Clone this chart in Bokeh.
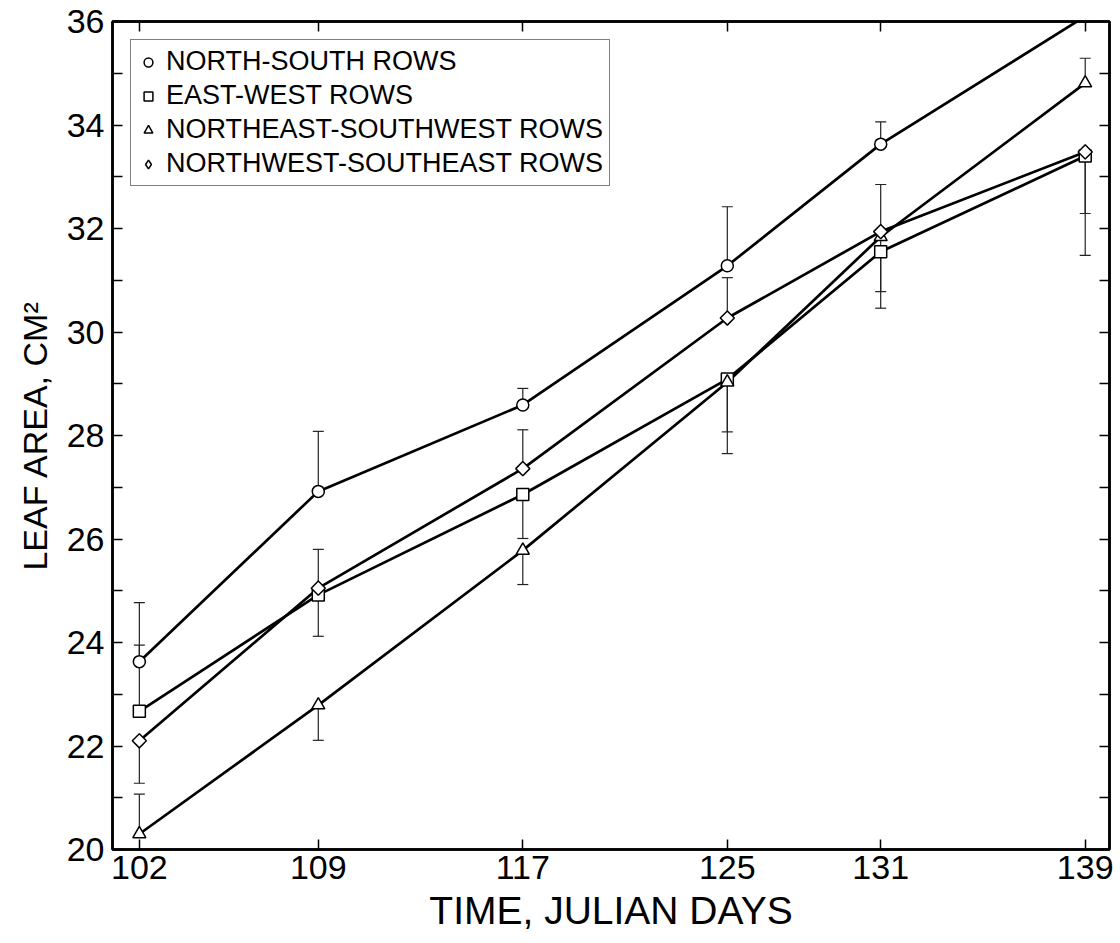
import math
from bokeh.plotting import figure
from bokeh.models import (Range1d, LinearAxis, FixedTicker, Whisker, TeeHead,
                          ColumnDataSource, Legend, LegendItem)
from bokeh.embed import file_html
from bokeh.resources import INLINE

# ---------------- data ----------------
days = [102, 109, 117, 125, 131, 139]
y_ticks = [20, 22, 24, 26, 28, 30, 32, 34, 36]
y_minor_ticks = [21, 23, 25, 27, 29, 31, 33, 35]

series_names = ["NORTH-SOUTH ROWS", "EAST-WEST ROWS",
                "NORTHEAST-SOUTHWEST ROWS", "NORTHWEST-SOUTHEAST ROWS"]
series_markers = ["circle", "square", "triangle", "diamond"]

north_south = [23.63, 26.92, 28.59, 31.28, 33.63, 36.10]
east_west = [22.67, 24.92, 26.86, 29.09, 31.55, 33.40]
northeast_southwest = [20.30, 22.79, 25.78, 29.03, 31.84, 34.81]
northwest_southeast = [22.10, 25.05, 27.36, 30.27, 31.94, 33.48]

# one-sided error bar ends (None = no bar drawn)
north_south_bar = [24.77, 28.08, 28.91, 32.42, 34.06, None]
east_west_bar = [23.95, 24.12, 26.01, 28.07, 30.78, 32.29]
northeast_southwest_bar = [21.07, 22.11, 25.12, 27.65, 30.46, 35.29]
northwest_southeast_bar = [21.28, 25.80, 28.11, 31.05, 32.85, 31.48]

series_values = [north_south, east_west, northeast_southwest, northwest_southeast]
series_bars = [north_south_bar, east_west_bar, northeast_southwest_bar, northwest_southeast_bar]

FONT = "Liberation Sans"

# ---------------- figure ----------------
p = figure(width=1120, height=943,
           x_range=Range1d(100.95, 139.95), y_range=Range1d(20, 36),
           output_backend="svg", toolbar_location=None,
           min_border_left=112, min_border_right=11,
           min_border_top=21, min_border_bottom=94,
           x_axis_label="TIME, JULIAN DAYS",
           y_axis_label="LEAF AREA, CM\u00b2")
p.background_fill_color = "white"
p.border_fill_color = "white"
p.outline_line_color = "black"
p.outline_line_width = 2.5
p.xgrid.visible = False
p.ygrid.visible = False

xa = p.xaxis[0]
xa.ticker = FixedTicker(ticks=days)
ya = p.yaxis[0]
ya.ticker = FixedTicker(ticks=y_ticks, minor_ticks=y_minor_ticks)

for ax in (xa, ya):
    ax.axis_line_width = 2.5
    ax.axis_line_color = "black"
    ax.major_tick_in = 10
    ax.major_tick_out = 0
    ax.minor_tick_in = 10
    ax.minor_tick_out = 0
    ax.major_tick_line_width = 1.5
    ax.minor_tick_line_width = 1.5
    ax.major_label_text_font = FONT
    ax.major_label_text_font_size = "34px"
    ax.major_label_text_color = "black"
    ax.axis_label_text_font = FONT
    ax.axis_label_text_font_style = "normal"
    ax.axis_label_text_color = "black"

xa.major_label_standoff = 6
xa.axis_label_text_font_size = "39px"
xa.axis_label_standoff = 7
ya.major_label_standoff = 8
ya.axis_label_text_font_size = "34px"
ya.axis_label_standoff = 10

# top & right axes: ticks only
top = LinearAxis(ticker=FixedTicker(ticks=days))
right = LinearAxis(ticker=FixedTicker(ticks=y_ticks, minor_ticks=y_minor_ticks))
for ax in (top, right):
    ax.axis_line_width = 2.5
    ax.axis_line_color = "black"
    ax.major_tick_in = 10
    ax.major_tick_out = 0
    ax.minor_tick_in = 10
    ax.minor_tick_out = 0
    ax.major_tick_line_width = 1.5
    ax.minor_tick_line_width = 1.5
    ax.major_label_text_color = None
p.add_layout(top, "above")
p.add_layout(right, "right")

# ---------------- error bars ----------------
up_x, up_lo, up_hi = [], [], []
dn_x, dn_lo, dn_hi = [], [], []
for vals, bars in zip(series_values, series_bars):
    for d, v, b in zip(days, vals, bars):
        if b is None:
            continue
        if b >= v:
            up_x.append(d); up_lo.append(v); up_hi.append(b)
        else:
            dn_x.append(d); dn_lo.append(b); dn_hi.append(v)

up_src = ColumnDataSource(dict(x=up_x, lower=up_lo, upper=up_hi))
dn_src = ColumnDataSource(dict(x=dn_x, lower=dn_lo, upper=dn_hi))
p.add_layout(Whisker(source=up_src, base="x", lower="lower", upper="upper",
                     dimension="height", line_color="#222222", line_width=1.2,
                     lower_head=None,
                     upper_head=TeeHead(size=11, line_width=1.2, line_color="#222222")))
p.add_layout(Whisker(source=dn_src, base="x", lower="lower", upper="upper",
                     dimension="height", line_color="#222222", line_width=1.2,
                     upper_head=None,
                     lower_head=TeeHead(size=11, line_width=1.2, line_color="#222222")))

# ---------------- lines & markers ----------------
for vals in series_values:
    p.line(days, vals, line_color="black", line_width=2.7)

items = []
for name, marker, vals in zip(series_names, series_markers, series_values):
    if marker == "diamond":
        # legend glyph renderer (diamond), then covered by a square turned 45 deg
        r = p.scatter(days, vals, marker="diamond", size=11,
                      fill_color="white", line_color="black", line_width=1.5)
        p.scatter(days, vals, marker="square", angle=math.pi / 4, size=10,
                  fill_color="white", line_color="black", line_width=1.5)
    else:
        size = 13 if marker == "triangle" else 12
        r = p.scatter(days, vals, marker=marker, size=size, fill_color="white",
                      line_color="black", line_width=1.5)
    items.append(LegendItem(label=name, renderers=[r]))

legend = Legend(items=items, location="top_left", margin=18, padding=6,
                spacing=3, glyph_width=22, glyph_height=30, label_height=30,
                label_standoff=7, label_text_font=FONT,
                label_text_font_size="27px", label_text_color="black",
                border_line_color="black", border_line_width=1.8,
                background_fill_color="white", background_fill_alpha=1.0)
p.add_layout(legend)

open("out.html", "w").write(file_html(p, INLINE))
